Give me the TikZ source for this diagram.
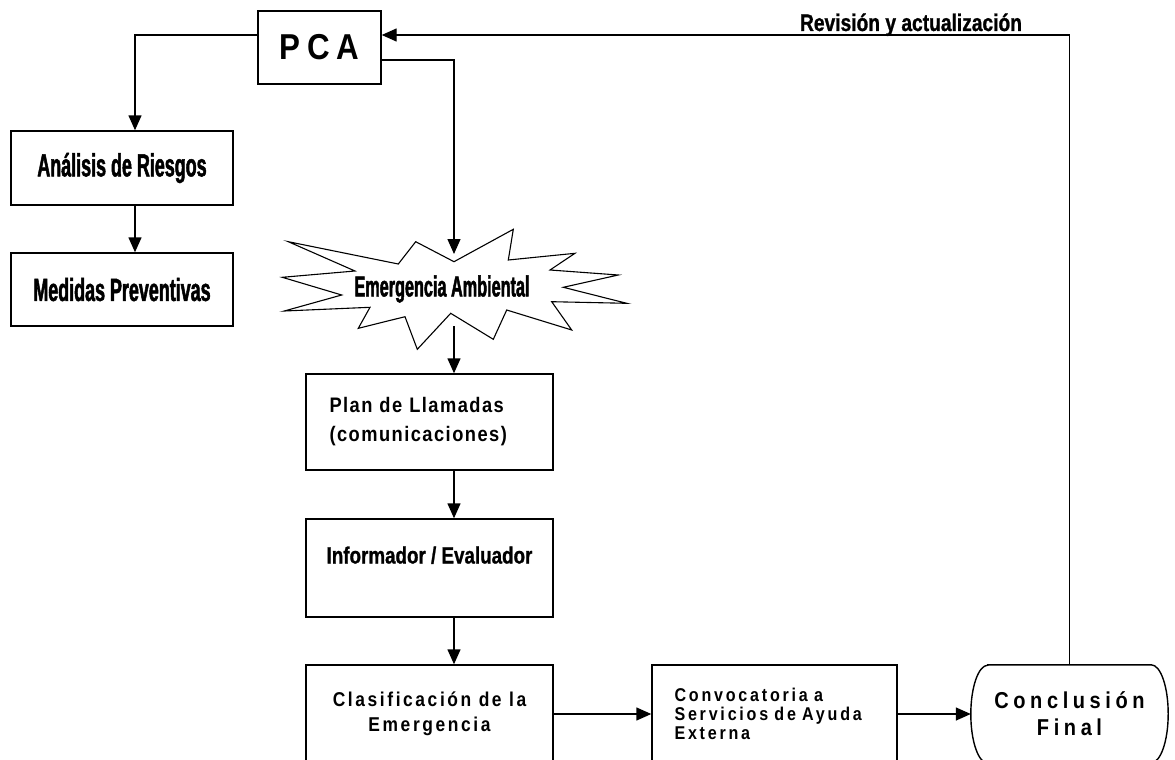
\documentclass[tikz,border=0pt]{standalone}
\usepackage{fontspec}
\setmainfont{Liberation Sans}
\newfontfamily\narrowfont[FakeStretch=0.56,FakeBold=1.5]{Liberation Sans}
\newfontfamily\semifont[FakeStretch=0.8,FakeBold=1]{Liberation Sans}
\newfontfamily\spacedfont[FakeStretch=0.87]{Liberation Sans}
\usetikzlibrary{arrows.meta,calc}

\begin{document}
\begin{tikzpicture}[x=1pt,y=-1pt]
        % Styles for the boxes, lines and arrows
        \tikzstyle{caja}=[draw, rectangle, line width=1.4pt, inner sep=0pt, minimum width=247pt];
        \tikzstyle{flecha}=[line width=1.4pt, -{Triangle[length=15pt,width=13pt]}];
        \tikzstyle{linea}=[line width=1.4pt];
        \tikzstyle{estrecha}=[font=\narrowfont\bfseries\fontsize{32}{34}\selectfont];
        
        % Size of the page
        \useasboundingbox (0,0) rectangle (1175,760);
        \clip (0,0) rectangle (1175,760);
        
        % PCA box at the top
        \node[caja, minimum width=123pt, minimum height=73pt, font=\spacedfont\bfseries\fontsize{36}{40}\selectfont\addfontfeatures{LetterSpace=18}] (pca) at (319.5,47.5) {PCA};
        
        % Left column
        \node[caja, minimum width=222pt, minimum height=74pt, estrecha] (analisis) at (122,168) {Análisis de Riesgos};
        \node[caja, minimum width=222pt, minimum height=73pt, estrecha] (medidas) at (122,289.5) {Medidas Preventivas};
        
        % Burst for the emergency
        \draw[line width=1.1pt] (454,261.7) -- (513.3,229.3) -- (508.3,260) -- (575,253.3) -- (550,270)
            -- (618.3,275) -- (563.3,287.3) -- (626.7,303.3) -- (551.7,301.7) -- (571.7,330)
            -- (506.7,310) -- (493.3,339.3) -- (450.7,313.3) -- (417.3,349.3) -- (405,316.7)
            -- (358.3,328.3) -- (370,307.3) -- (284.3,311) -- (341.7,295) -- (282.3,277.3)
            -- (355,271) -- (288.3,241.7) -- (398.3,264) -- (415.7,241.7) -- cycle;
        \node[font=\narrowfont\bfseries\fontsize{29}{31}\selectfont] (emer) at (442,289) {Emergencia Ambiental};
        \coordinate (emertop) at (454,254);
        \coordinate (emerbot) at (454,326);
        
        % Middle column
        \node[caja, minimum height=96pt, text width=200pt, align=left, font=\spacedfont\bfseries\fontsize{21}{29}\selectfont\addfontfeatures{LetterSpace=7}] (plan) at (429.5,422) {Plan de Llamadas\\(comunicaciones)};
        \node[caja, minimum height=98pt, align=left, text depth=26pt, font=\semifont\bfseries\fontsize{23.5}{26}\selectfont] (informador) at (429.5,568) {Informador / Evaluador};
        \node[caja, minimum height=98pt, align=center, font=\spacedfont\bfseries\fontsize{20}{25}\selectfont\addfontfeatures{LetterSpace=13}] (clasif) at (429.5,714) {Clasificación de la\\Emergencia};
        
        % Bottom row
        \node[caja, minimum width=245pt, minimum height=98pt, text width=200pt, align=left, font=\spacedfont\bfseries\fontsize{18.5}{19}\selectfont\addfontfeatures{LetterSpace=15}] (convoc) at (774.5,714) {Convocatoria a\\Servicios de Ayuda\\Externa};
        \node[minimum width=197pt, minimum height=98pt, inner sep=0pt, align=center, font=\spacedfont\bfseries\fontsize{23}{27}\selectfont\addfontfeatures{LetterSpace=20}] (concl) at (1069.5,714) {Conclusión\\Final};
        \draw[linea] ([xshift=17pt]concl.north west) -- ([xshift=-17pt]concl.north east)
            arc[start angle=90, end angle=-90, x radius=17pt, y radius=49pt]
            -- ([xshift=17pt]concl.south west)
            arc[start angle=270, end angle=90, x radius=17pt, y radius=49pt] -- cycle;
        
        % Label of the loop back
        \node[font=\semifont\bfseries\fontsize{24}{26}\selectfont, anchor=base] (revision) at (911,31) {Revisión y actualización};
        
        % Arrows
        \draw[flecha] ([yshift=12.5pt]pca.west) -| ([xshift=13pt]analisis.north);
        \draw[flecha] ([xshift=13pt]analisis.south) -- ([xshift=13pt]medidas.north);
        \draw[flecha] ([yshift=-12.5pt]pca.east) -| (emertop);
        \draw[flecha] (emerbot) -- (emerbot |- plan.north);
        \draw[flecha] (plan.south -| emerbot) -- (informador.north -| emerbot);
        \draw[flecha] (informador.south -| emerbot) -- (clasif.north -| emerbot);
        \draw[flecha] (clasif.east) -- (convoc.west);
        \draw[flecha] (convoc.east) -- (concl.west);
        \draw[flecha] (concl.north) |- ([yshift=12.5pt]pca.east);
    \end{tikzpicture}
\end{document}
